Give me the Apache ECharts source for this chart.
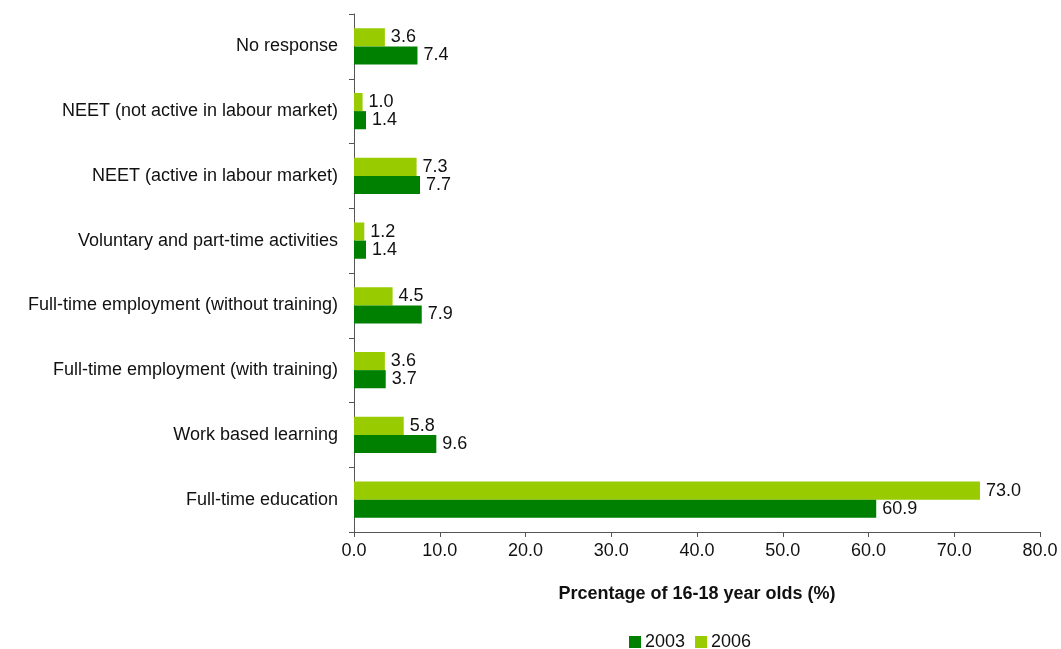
<!DOCTYPE html>
<html><head><meta charset="utf-8">
<script src="https://cdn.jsdelivr.net/npm/echarts@6/dist/echarts.min.js"></script>
<style>html,body{margin:0;padding:0;background:#fff}#c{width:1061px;height:649px}</style>
</head><body><div id="c"></div>
<script>
const categories = [
  "Full-time education",
  "Work based learning",
  "Full-time employment (with training)",
  "Full-time employment (without training)",
  "Voluntary and part-time activities",
  "NEET (active in labour market)",
  "NEET (not active in labour market)",
  "No response"
];
const values2003 = [60.9, 9.6, 3.7, 7.9, 1.4, 7.7, 1.4, 7.4];
const values2006 = [73.0, 5.8, 3.6, 4.5, 1.2, 7.3, 1.0, 3.6];
const seriesNames = ["2003", "2006"];

const font = "'Liberation Sans', Arial, sans-serif";
const fs = 18;
const chart = echarts.init(document.getElementById('c'), null, {renderer: 'canvas'});
const lbl = {show: true, position: 'right', distance: 6, color: '#111', fontSize: fs, fontFamily: font,
  formatter: p => p.value.toFixed(1)};
chart.setOption({
  animation: false,
  textStyle: {fontFamily: font},
  grid: {left: 354, right: 21, top: 14, bottom: 117},
  legend: {
    bottom: -7, left: 624, itemWidth: 12, itemHeight: 12, itemGap: 10,
    icon: 'rect',
    textStyle: {fontSize: fs, color: '#111', fontFamily: font, padding: [0, 0, 0, -1]},
    data: seriesNames
  },
  xAxis: {
    type: 'value', min: 0, max: 80, interval: 10,
    name: 'Prcentage of 16-18 year olds (%)', nameLocation: 'middle', nameGap: 53,
    nameTextStyle: {fontSize: fs, fontWeight: 'bold', color: '#111', fontFamily: font},
    axisLine: {show: true, lineStyle: {color: '#555'}},
    axisTick: {show: true, length: 5, lineStyle: {color: '#555'}},
    axisLabel: {fontSize: fs, color: '#111', formatter: v => v.toFixed(1), margin: 10},
    splitLine: {show: false}
  },
  yAxis: {
    type: 'category', data: categories,
    axisLine: {show: true, lineStyle: {color: '#555'}},
    axisTick: {show: true, length: 5, lineStyle: {color: '#555'}},
    axisLabel: {fontSize: fs, color: '#111', margin: 16}
  },
  series: [
    {name: seriesNames[1], type: 'bar', data: values2006, barGap: '0%', barCategoryGap: '44%',
     itemStyle: {color: '#99CC00'}, label: lbl},
    {name: seriesNames[0], type: 'bar', data: values2003, barGap: '0%', barCategoryGap: '44%',
     itemStyle: {color: '#008000'}, label: lbl}
  ]
});
</script></body></html>
